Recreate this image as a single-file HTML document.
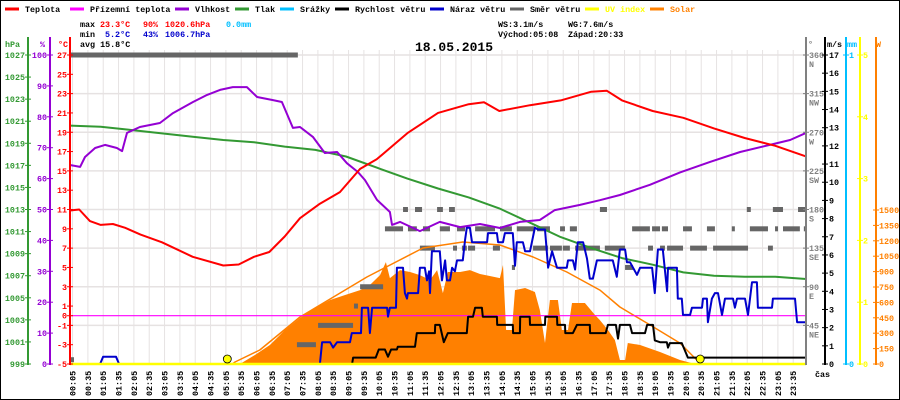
<!DOCTYPE html>
<html><head><meta charset="utf-8"><style>
html,body{margin:0;padding:0;background:#fff;}
svg{display:block;font-family:"Liberation Mono",monospace;}
</style></head><body>
<svg id="c" width="900" height="400" viewBox="0 0 900 400" xmlns="http://www.w3.org/2000/svg">
<rect x="0.5" y="0.5" width="899" height="399" fill="#fff" stroke="#000"/>
<g id="grid"></g>
<g id="marks"></g>
<g id="axes"></g>
<g id="legend" font-size="8.4" font-weight="bold"></g>
<g font-size="8.4" font-weight="bold">
<text x="80" y="27" fill="#000">max</text>
<text x="100" y="27" fill="#f00">23.3°C</text>
<text x="143" y="27" fill="#f00">90%</text>
<text x="165" y="27" fill="#f00">1020.6hPa</text>
<text x="226" y="27" fill="#00bfff">0.0mm</text>
<text x="80" y="37" fill="#000">min</text>
<text x="105" y="37" fill="#00c">5.2°C</text>
<text x="143" y="37" fill="#00c">43%</text>
<text x="165" y="37" fill="#00c">1006.7hPa</text>
<text x="80" y="47" fill="#000">avg 15.8°C</text>
<text x="498" y="27" fill="#000">WS:3.1m/s</text>
<text x="568" y="27" fill="#000">WG:7.6m/s</text>
<text x="498" y="37" fill="#000">Východ:05:08</text>
<text x="568" y="37" fill="#000">Západ:20:33</text>
<text x="415" y="51" fill="#000" font-size="13">18.05.2015</text>
</g>
</svg>
<script>
// ---- data ----
const tempTimes=[0,0.3,0.65,1,1.4,1.8,2.3,3,4,5,5.5,6,6.5,7,7.5,8.15,8.8,9.46,10,11,12,13,13.5,14,15,16,17,17.5,18,19,20,21,22,23,24];
const tempVals=[10.9,11.0,9.8,9.4,9.5,9.1,8.4,7.6,6.1,5.2,5.3,6.1,6.6,8.2,10.1,11.6,12.8,15.2,16.2,18.9,21.0,21.9,22.1,21.2,21.8,22.3,23.2,23.3,22.3,21.2,20.5,19.4,18.4,17.6,16.5];
const apparentTimes=[0,24];
const apparentVals=[0,0];
const humTimes=[0,0.33,0.49,0.82,1.14,1.53,1.70,1.86,2.28,2.93,3.36,4.01,4.47,4.89,5.31,5.77,6.10,6.62,6.91,7.27,7.50,7.92,8.31,8.71,9.03,9.39,9.62,10.01,10.43,10.5,10.76,11.41,12.06,12.72,13.37,14.02,14.67,15.32,15.81,16.63,17.28,17.93,18.91,19.89,20.87,21.85,22.82,23.48,24];
const humVals=[64.4,63.8,67.0,69.9,70.9,69.9,68.9,74.8,76.7,78.0,81.2,84.8,87.1,88.7,89.6,89.6,86.4,85.4,84.8,76.4,76.7,73.5,68.3,68.6,65.0,62.1,59.5,53.1,49.2,45,46,43,46,44.3,45.3,44,46,46.6,49.8,51.5,53,54.7,58,62,65.4,68.6,70.9,72.5,74.8];
const presTimes=[0,1,2,3,4,5,6,7,8,9,10,11,12,13,14,15,16,17,18,19,20,21,22,23,24];
const presVals=[1020.6,1020.5,1020.2,1019.9,1019.6,1019.3,1019.1,1018.7,1018.4,1017.8,1016.8,1015.8,1014.9,1014.1,1013.1,1011.8,1010.5,1009.5,1008.6,1008.0,1007.3,1007.0,1006.9,1006.9,1006.7];
const windTimes=[0,9.20,9.23,9.97,10.07,10.27,10.37,10.47,10.66,10.69,11.25,11.31,11.90,11.91,12.06,12.19,12.32,12.94,12.98,13.14,13.21,13.43,13.46,13.92,13.93,14.44,14.45,14.67,14.68,14.99,15.00,15.49,15.50,15.88,15.89,16.14,16.15,16.40,16.53,16.95,16.96,17.47,17.54,17.80,17.87,17.93,18.26,18.33,18.75,18.82,19.01,19.07,19.24,19.46,19.50,19.56,19.95,20.15,24];
const windVals=[0,0,0.35,0.35,0.8,0.8,0.4,0.8,0.8,0.95,0.95,1.7,1.7,2.15,2.15,1.2,1.7,1.7,2.6,2.6,3.1,3.1,2.6,2.6,2.15,2.15,1.7,1.7,2.6,2.6,2.15,2.15,2.6,2.6,2.15,2.15,1.7,1.7,2.15,2.15,1.7,1.7,2.15,2.15,1.4,2.15,2.15,1.7,1.7,2.15,2.15,1.3,1.2,1.2,0.9,1.15,1.15,0.35,0.35];
const gustTimes=[0,0.98,1.08,1.50,1.60,8.15,8.22,8.48,8.58,8.71,9.13,9.19,9.49,9.52,9.72,9.78,9.85,10.34,10.37,10.43,10.63,10.66,10.86,10.92,10.99,11.02,11.35,11.41,11.57,11.64,11.71,11.74,11.80,12.06,12.13,12.23,12.29,12.39,12.46,12.55,12.62,12.81,12.88,12.94,13.04,13.11,13.60,13.63,13.92,13.96,14.12,14.18,14.44,14.51,14.57,14.77,14.84,15.00,15.16,15.26,15.49,15.59,15.72,15.88,16.20,16.24,16.40,16.47,16.56,16.73,16.86,16.95,17.05,17.18,17.70,17.83,17.93,18.10,18.16,18.26,18.49,18.59,18.98,19.07,19.17,19.33,19.47,19.50,19.79,19.82,19.95,19.99,20.22,20.28,20.61,20.64,20.77,20.80,20.93,21.03,21.13,21.26,21.36,21.62,21.68,21.75,22.01,22.11,22.24,22.40,22.43,22.89,22.92,23.64,23.71,24.0];
const gustVals=[0,0,0.4,0.4,0,0,1.2,1.2,0.9,1.2,1.2,1.7,1.7,3.1,3.1,1.7,3.1,3.1,2.6,3.1,3.1,5.3,5.3,3.9,3.6,3.9,3.9,5.3,5.3,4.6,5.1,3.9,6.2,6.2,4.6,5.7,4.6,4.6,5.3,5.1,5.7,5.7,6.8,7.5,7.5,6.7,6.7,7.2,7.2,6.7,6.7,7.2,7.2,5.4,6.7,6.7,6.2,6.2,7.5,7.4,7.4,5.3,6.2,5.3,5.3,5.7,5.7,5.2,6.7,6.7,5.8,4.7,4.7,5.7,5.7,4.8,6.3,6.3,5.6,5.6,4.9,5.3,5.3,3.9,6.3,6.3,4.0,5.3,5.3,3.6,3.6,2.7,2.7,3.1,3.1,3.6,3.6,2.3,3.6,3.9,3.9,2.7,3.6,3.6,3.1,3.6,3.6,2.7,4.5,4.5,3.1,3.1,3.6,3.6,2.3,2.3];
const solarTimes=[5.54,6.03,6.52,7.01,7.50,7.99,8.48,8.97,9.46,9.78,10.11,10.30,10.43,10.76,11.09,11.41,11.74,11.97,12.16,12.32,12.72,13.04,13.37,13.69,14.02,14.12,14.22,14.41,14.51,14.84,15.16,15.32,15.49,15.65,15.91,16.04,16.24,16.37,16.79,17.12,17.28,17.54,17.77,17.93,18.10,18.19,18.59,19.24,19.89,20.38];
const solarVals=[0,88,185,331,448,545,623,672,720,769,866,993,837,915,896,866,818,915,691,896,896,915,877,857,837,964,331,331,720,740,701,526,205,623,623,331,331,594,594,477,428,331,234,39,39,205,185,117,39,0];
const clearTimes=[5.3,5.38,6.19,7.50,9.68,11.51,12.81,14.02,15.10,16.20,17.28,17.93,18.81,19.89,20.44,20.64];
const clearVals=[0,19,136,458,847,1130,1188,1159,1042,896,720,555,399,204,39,0];
const uvTimes=[0,24];
const uvVals=[0,0];
const dirStart=[0,0,7.40,8.09,9.26,9.46,10.27,11.02,11.51,12.06,12.62,13.21,14.02,14.57,15.23,15.98,16.30,18.33,18.98,19.30,19.99,20.77,21.58,22.17,22.99,23.25,23.93,10.86,11.25,11.97,12.36,17.28,22.07,22.92,23.74,11.41,12.49,12.78,12.98,13.79,15.10,15.65,16.07,16.47,17.44,18.85,19.24,19.47,20.22,20.97,22.76,14.41,18.10];
const dirEnd=[7.43,0.13,8.02,9.23,9.39,10.21,10.86,11.31,11.74,12.39,12.88,13.86,14.41,15.16,15.65,16.14,16.53,18.91,19.24,19.50,20.28,21.03,21.68,22.76,23.08,23.80,24,11.02,11.48,12.16,12.55,17.51,22.20,23.25,24,11.90,12.62,12.94,13.21,14.02,15.59,16.04,16.30,17.28,18.10,19.01,19.40,19.99,20.77,22.11,22.92,14.51,18.36];
const dirVals=[360,5,22.5,45,67.5,90,157.5,157.5,157.5,157.5,157.5,157.5,157.5,157.5,157.5,157.5,157.5,157.5,157.5,157.5,157.5,157.5,157.5,157.5,157.5,157.5,157.5,180,180,180,180,180,180,180,180,135,135,135,135,135,135,135,135,135,135,135,135,135,135,135,135,112.5,112.5];
const sunEvents=[5.13,20.55];
const hpaTicks=[1027,1025,1023,1021,1019,1017,1015,1013,1011,1009,1007,1005,1003,1001,999];
const humTicks=[100,90,80,70,60,50,40,30,20,10,0];
const tempTicks=[27,25,23,21,19,17,15,13,11,9,7,5,3,1,0,-1,-3,-5];
const dirTicks=[360,315,270,225,180,135,90,45];
const dirNames=["N","NW","W","SW","S","SE","E","NE"];
const msTicks=[0,1,2,3,4,5,6,7,8,9,10,11,12,13,14,15,16,17];
const uvTicks=[0,1,2,3,4,5];
const solTicks=[0,150,300,450,600,750,900,1050,1200,1350,1500];
const timeLabels=["00:05","00:35","01:05","01:35","02:05","02:35","03:05","03:35","04:05","04:35","05:05","05:35","06:05","06:35","07:05","07:35","08:05","08:35","09:05","09:35","10:05","10:35","11:05","11:35","12:05","12:35","13:05","13:35","14:05","14:35","15:05","15:35","16:05","16:35","17:05","17:35","18:05","18:35","19:05","19:35","20:05","20:35","21:05","21:35","22:05","22:35","23:05","23:35"];

// ---- scales ----
const X0=70,X1=806,YB=364,YT=55;
const x=h=>X0+h*(X1-X0)/24;
const yT=t=>YB-(t+5)*(YB-YT)/32;
const yH=p=>YB-p*(YB-YT)/100;
const yP=p=>YB-(p-999)*(YB-YT)/28;
const yW=v=>YB-v*(YB-YT)/17;
const yD=d=>YB-d*(YB-YT)/360;
const yS=w=>YB-w*154/1500;
const yU=u=>YB-u*(YB-YT)/5;
const NS="http://www.w3.org/2000/svg";
function mk(tag,attrs,parent){const e=document.createElementNS(NS,tag);for(const k in attrs)e.setAttribute(k,attrs[k]);parent.appendChild(e);return e;}
const grid=document.getElementById('grid'),marks=document.getElementById('marks'),axes=document.getElementById('axes'),legend=document.getElementById('legend');

// grid
timeLabels.forEach((lab,i)=>{const gx=x(5/60+i*0.5);
 const l=mk('line',{x1:gx,x2:gx,y1:YT-5,y2:YB,stroke:'#e6e2e2','stroke-width':1},grid);
 
 
 const t=mk('text',{transform:`translate(${gx+3},396) rotate(-90)`,'font-size':8.4,'font-weight':'bold',fill:'#000'},axes);
 t.textContent=lab;
 
 
});
dirTicks.forEach(d=>{const l=mk('line',{x1:X0,x2:X1,y1:yD(d),y2:yD(d),stroke:'#e6e2e2','stroke-width':1.5},grid);
 
 });

function path(ts,vs,fy){return ts.map((t,i)=>(i?'L':'M')+x(t).toFixed(1)+','+fy(vs[i]).toFixed(1)).join('');}

// solar fill
{let d=path(solarTimes,solarVals,yS)+`L${x(solarTimes[solarTimes.length-1])},${YB}L${x(solarTimes[0])},${YB}Z`;
 const p=mk('path',{d,fill:'#ff8000',stroke:'none'},marks);
 
 }
// direction dashes
dirVals.forEach((v,i)=>{const r=mk('rect',{x:x(dirStart[i]),y:yD(v)-2.5,width:Math.max(3,x(dirEnd[i])-x(dirStart[i])),height:5,fill:'#666'},marks);
 
 });
function line(ts,vs,fy,col,w,name){const p=mk('path',{d:path(ts,vs,fy),fill:'none',stroke:col,'stroke-width':w,'stroke-linejoin':'round'},marks);
 
 }
line(clearTimes,clearVals,yS,'#ff8000',1.5,'solar-clear-sky-line');
line(apparentTimes,apparentVals,yT,'#ff00ff',1.2,'apparent-temp-line');
line(presTimes,presVals,yP,'#339933',2,'pressure-line');
line(humTimes,humVals,yH,'#9400d3',2,'humidity-line');
line(tempTimes,tempVals,yT,'#ff0000',2,'temperature-line');
line(gustTimes,gustVals,yW,'#0000cc',2,'wind-gust-line');
line(windTimes,windVals,yW,'#000',2,'wind-speed-line');
line(uvTimes,uvVals,yU,'#ffff00',2.5,'uv-line');
sunEvents.forEach(h=>{const c=mk('circle',{cx:x(h),cy:YB-5,r:4,fill:'#ffff00',stroke:'#000','stroke-width':0.8},marks);
 
 });

// axes
function axis(ax,col,ticks,fy,lx,anchor,name){
 const l=mk('line',{x1:ax,x2:ax,y1:YT-18,y2:YB+1,stroke:col,'stroke-width':2},axes);
 
 
 ticks.forEach((v,i)=>{mk('line',{x1:ax-3,x2:ax+3,y1:fy(v),y2:fy(v),stroke:col,'stroke-width':1},axes);
  const t=mk('text',{x:lx,y:fy(v)+3,'font-size':8.4,'font-weight':'bold',fill:col,'text-anchor':anchor},axes);
  t.textContent=v;
  
  });
}
axis(28,'#339933',hpaTicks,yP,25,'end','pressure-axis');
axis(50,'#9400d3',humTicks,yH,47,'end','humidity-axis');
axis(70,'#ff0000',tempTicks,yT,67,'end','temperature-axis');
axis(806,'#808080',dirTicks,yD,809,'start','direction-axis');
dirTicks.forEach((d,i)=>{const t=mk('text',{x:809,y:yD(d)+12,'font-size':8.4,'font-weight':'bold',fill:'#808080'},axes);
 t.textContent=dirNames[i];
 
 });
axis(825,'#000',msTicks,yW,829,'start','wind-speed-axis');
axis(846,'#00bfff',[0,1],v=>YB-v*(YB-YT),849,'start','rain-axis');
axis(860,'#ffff00',uvTicks,yU,863,'start','uv-axis');
axis(876,'#ff8000',solTicks,yS,879,'start','solar-axis');
[['hPa',5,'#339933'],['%',40,'#9400d3'],['°C',58,'#ff0000'],['°',808,'#808080'],['m/s',827,'#000'],['mm',847,'#00bfff'],['W',876,'#ff8000']].forEach(a=>{
 const t=mk('text',{x:a[1],y:47,'font-size':8.4,'font-weight':'bold',fill:a[2]},axes);
 t.textContent=a[0];
 
 });
{const t=mk('text',{x:815,y:377,'font-size':8.4,'font-weight':'bold',fill:'#000'},axes);
 t.textContent='čas';
 
 }

// legend
[['Teplota','#ff0000',5],['Přízemní teplota','#ff00ff',70],['Vlhkost','#9400d3',175],['Tlak','#339933',235],['Srážky','#00bfff',280],['Rychlost větru','#000',335],['Náraz větru','#0000cc',430],['Směr větru','#666',510],['UV index','#ffff00',585],['Solar','#ff8000',650]].forEach(e=>{
 const g=mk('g',{},legend);
 
 
 mk('line',{x1:e[2],x2:e[2]+14,y1:9,y2:9,stroke:e[1],'stroke-width':3},g);
 const t=mk('text',{x:e[2]+20,y:12,fill:e[0]==='UV index'||e[0]==='Solar'?e[1]:'#000'},g);
 t.textContent=e[0];
});
</script>
</body></html>
